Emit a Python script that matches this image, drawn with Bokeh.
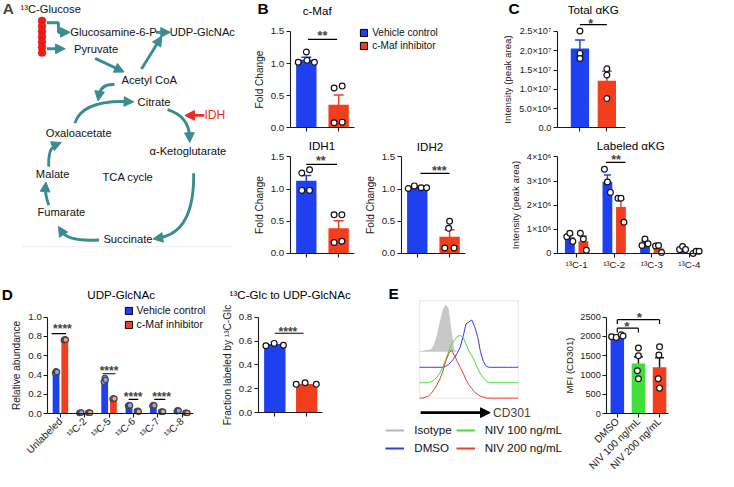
import math
from bokeh.plotting import figure
from bokeh.models import (Range1d, FixedTicker, Label, Legend, LegendItem, Whisker,
                          ColumnDataSource, Arrow, NormalHead, TeeHead, BoxAnnotation,
                          PrintfTickFormatter, CustomJSTickFormatter)
from bokeh.layouts import row, column
from bokeh.core.properties import value
from bokeh.embed import file_html
from bokeh.resources import INLINE

# ---------------- data ----------------
conditions = ["Vehicle control", "c-Maf inhibitor"]

cmaf_mean = [1.06, 0.36]
cmaf_sem = [0.04, 0.15]
cmaf_vehicle = [1.02, 1.18, 1.05, 1.02]
cmaf_inhib = [0.62, 0.65, 0.08, 0.09]

idh1_mean = [1.13, 0.39]
idh1_sem = [0.08, 0.12]
idh1_vehicle = [1.25, 1.30, 0.98, 0.98]
idh1_inhib = [0.60, 0.60, 0.17, 0.19]

idh2_mean = [1.03, 0.26]
idh2_sem = [0.01, 0.11]
idh2_vehicle = [1.01, 1.05, 1.02, 1.02]
idh2_inhib = [0.50, 0.39, 0.085, 0.085]

akg_total_mean = [2.06e7, 1.22e7]
akg_total_sem = [0.22e7, 0.25e7]
akg_total_vehicle = [2.51e7, 1.93e7, 1.80e7]
akg_total_inhib = [1.53e7, 1.37e7, 0.76e7]
akg_total_ticklabels = ["0.0", "5.0×10⁶", "1.0×10⁷", "1.5×10⁷", "2.0×10⁷", "2.5×10⁷"]

iso_labels = ["¹³C-1", "¹³C-2", "¹³C-3", "¹³C-4"]
akg_lab_vehicle_mean = [0.67e6, 2.97e6, 0.43e6, 0.20e6]
akg_lab_vehicle_sem = [0.10e6, 0.28e6, 0.08e6, 0.04e6]
akg_lab_inhib_mean = [0.51e6, 1.93e6, 0.22e6, 0.06e6]
akg_lab_inhib_sem = [0.21e6, 0.32e6, 0.09e6, 0.03e6]
akg_lab_vehicle_pts = [[0.69e6, 0.84e6, 0.50e6], [3.49e6, 2.96e6, 2.53e6],
                       [0.33e6, 0.60e6, 0.40e6], [0.16e6, 0.29e6, 0.16e6]]
akg_lab_inhib_pts = [[0.84e6, 0.60e6, 0.13e6], [2.29e6, 2.29e6, 1.29e6],
                     [0.31e6, 0.33e6, 0.04e6], [0.00e6, 0.09e6, 0.09e6]]
akg_lab_ticklabels = ["0", "1×10⁶", "2×10⁶", "3×10⁶", "4×10⁶"]

udp_labels = ["Unlabeled", "¹³C-2", "¹³C-5", "¹³C-6", "¹³C-7", "¹³C-8"]
udp_vehicle = [0.43, 0.01, 0.35, 0.085, 0.085, 0.03]
udp_inhib = [0.765, 0.01, 0.155, 0.025, 0.02, 0.008]
udp_vehicle_pts = [[0.42, 0.44, 0.43], [0.005, 0.01, 0.012], [0.33, 0.37, 0.35],
                   [0.08, 0.09, 0.085], [0.08, 0.09, 0.085], [0.025, 0.035, 0.03]]
udp_inhib_pts = [[0.76, 0.77, 0.765], [0.01, 0.012, 0.008], [0.15, 0.16, 0.155],
                 [0.025, 0.03, 0.02], [0.02, 0.022, 0.018], [0.008, 0.01, 0.006]]

frac_mean = [0.575, 0.24]
frac_vehicle = [0.56, 0.58, 0.565]
frac_inhib = [0.237, 0.25, 0.237]

hist_channel = [0, 3, 6, 9, 12, 15, 18, 21, 24, 27, 30, 33, 36, 39, 42, 45, 48, 51,
                54, 57, 60, 63, 66, 69, 72, 75, 78, 81, 84, 87, 90, 93, 96, 99, 102]
hist_isotype = [1, 1, 2, 2, 3, 8, 18, 32, 44, 49, 45, 22, 2, 0, 0, 0, 0, 0,
                0, 0, 0, 0, 0, 0, 0, 0, 0, 0, 0, 0, 0, 0, 0, 0, 0]
hist_dmso = [0, 0, 0, 0, 0, 0, 0, 0, 0, 1, 3, 6, 10, 15, 21, 32, 45, 47,
             49, 42, 32, 16, 6, 1, 0, 0, 0, 0, 0, 0, 0, 0, 0, 0, 0]
hist_niv100 = [0, 0, 0, 0, 1, 3, 6, 10, 16, 24, 32, 40, 44, 48, 49, 47, 40, 33,
               28, 22, 15, 9, 5, 2, 0, 0, 0, 0, 0, 0, 0, 0, 0, 0, 0]
hist_niv200 = [0, 0, 1, 2, 5, 9, 14, 20, 28, 38, 46, 50, 44, 38, 32, 26, 19, 14,
               10, 6, 4, 2, 1, 0, 0, 0, 0, 0, 0, 0, 0, 0, 0, 0, 0]

mfi_labels = ["DMSO", "NIV 100 ng/mL", "NIV 200 ng/mL"]
mfi_mean = [2005, 1300, 1200]
mfi_sem = [20, 175, 250]
mfi_pts = [[1990, 1975, 2045, 2010], [1700, 1500, 1110, 905], [1730, 1520, 905, 660]]

pathway_labels = ["¹³C-Glucose", "Glucosamine-6-P", "UDP-GlcNAc", "Pyruvate", "Acetyl CoA",
                  "Citrate", "Oxaloacetate", "α-Ketoglutarate", "Malate", "TCA cycle",
                  "Fumarate", "Succinate"]

# ---------------- style ----------------
FONT = "Liberation Sans"
BLUE = "#1f40f0"
RED = "#f23e1d"
GREEN = "#3fe03c"
TEAL = "#3b8c90"
S = 0.965


def P(v):
    return int(round(v * S))


def fs(px):
    return f"{px * S:.1f}px"


class Panel:
    """A figure whose frame fills its whole cell; axes are pinned with fixed_location."""

    def __init__(self, bounds, axbox, xdata, ydata, axes=True):
        self.bounds = bounds
        bx0, by0, bx1, by1 = bounds
        ax0, ay0, ax1, ay1 = axbox
        self.kx = (xdata[1] - xdata[0]) / (ax1 - ax0)
        self.ky = (ydata[1] - ydata[0]) / (ay1 - ay0)
        self.ax0, self.ay1, self.xd0, self.yd0 = ax0, ay1, xdata[0], ydata[0]
        kw = {} if axes else dict(x_axis_type=None, y_axis_type=None)
        p = figure(width=P(bx1) - P(bx0), height=P(by1) - P(by0),
                   x_range=Range1d(self.X(bx0), self.X(bx1)),
                   y_range=Range1d(self.Y(by1), self.Y(by0)),
                   output_backend="svg", toolbar_location=None,
                   min_border=0, min_border_left=0, min_border_right=0,
                   min_border_top=0, min_border_bottom=0, **kw)
        p.outline_line_color = None
        p.grid.visible = False
        if axes:
            p.yaxis.fixed_location = xdata[0]
            p.yaxis.bounds = (ydata[0], ydata[1])
            p.xaxis.fixed_location = ydata[0]
            p.xaxis.bounds = (xdata[0], xdata[1])
        self.p = p

    def X(self, X):
        return self.xd0 + (X - self.ax0) * self.kx

    def Y(self, Y):
        return self.yd0 + (self.ay1 - Y) * self.ky

    def text(self, X, Y, text, size=12.0, bold=False, color="black", align="center"):
        self.p.add_layout(Label(x=self.X(X), y=self.Y(Y), text=text, text_font=FONT,
                                text_font_size=fs(size),
                                text_font_style="bold" if bold else "normal",
                                text_color=color, text_align=align, text_baseline="middle"))

    def loc(self, X, Ybottom):
        bx0, by0, bx1, by1 = self.bounds
        return ((X - bx0) * S, (by1 - Ybottom) * S)


def style_axes(p, yticks, yfmt, ylabel, xticks, xlabels=None, tick_size=10.0,
               xtick_size=10.5, xrot=False, label_size=10.5):
    xa, ya = p.xaxis[0], p.yaxis[0]
    for ax in (xa, ya):
        ax.axis_line_color = "#1a1a1a"
        ax.axis_line_width = 1.1
        ax.major_tick_line_color = "#1a1a1a"
        ax.major_tick_line_width = 1.1
        ax.major_tick_in = 0
        ax.major_tick_out = P(4)
        ax.minor_tick_line_color = None
        ax.major_label_text_font = FONT
        ax.major_label_text_color = "#1a1a1a"
        ax.major_label_standoff = 2
        ax.axis_label_text_font = FONT
        ax.axis_label_text_font_style = "normal"
        ax.axis_label_text_font_size = fs(label_size)
        ax.axis_label_text_color = "#1a1a1a"
        ax.axis_label_standoff = 3
    ya.ticker = FixedTicker(ticks=yticks)
    ya.formatter = yfmt
    ya.major_label_text_font_size = fs(tick_size)
    ya.axis_label = ylabel
    xa.ticker = FixedTicker(ticks=xticks)
    if xlabels is None:
        xa.major_label_text_font_size = "0px"
        xa.major_label_standoff = 0
        xa.formatter = CustomJSTickFormatter(code="return '';")
    else:
        xa.formatter = CustomJSTickFormatter(args=dict(labels=xlabels), code="return labels[index];")
        xa.major_label_text_font_size = fs(xtick_size)
    if xrot:
        xa.major_label_orientation = math.pi / 4


def labels_fmt(lbls):
    return CustomJSTickFormatter(args=dict(labels=lbls), code="return labels[index];")


def errs(p, xs, means, sems, color, head=8):
    src = ColumnDataSource(dict(x=xs, lo=[m - s for m, s in zip(means, sems)],
                                hi=[m + s for m, s in zip(means, sems)]))
    p.add_layout(Whisker(source=src, base="x", lower="lo", upper="hi",
                         line_color=color, line_width=1.5,
                         upper_head=TeeHead(size=P(head), line_color=color, line_width=1.5),
                         lower_head=TeeHead(size=P(head), line_color=color, line_width=1.5)))


def dots(p, xs, ys, fill="white", size=6.0, line="#111111"):
    p.scatter(x=xs, y=ys, size=size * S, fill_color=fill, line_color=line, line_width=1.2)


def seg(p, x0, y0, x1, y1, width=1.2, color="black"):
    p.add_layout(Arrow(x_start=x0, y_start=y0, x_end=x1, y_end=y1, start=None, end=None,
                       line_width=width, line_color=color))


def sig(p, x0, x1, yline, ystar, xstar, text, size=13.0):
    seg(p, x0, yline, x1, yline)
    p.add_layout(Label(x=xstar, y=ystar, text=text, text_font=FONT, text_font_size=fs(size),
                       text_font_style="bold", text_align="center", text_baseline="middle",
                       y_offset=-0.25 * size * S))


def swatch_legend(pn, X, Ybottom, labels, colors, xs, tops, width, size=10.5, box=9):
    """Legend whose swatches come from hidden copies of the real bars (black outline)."""
    p = pn.p
    rs = [p.vbar(x=[x], top=[t], width=width, fill_color=c, line_color="black",
                 line_width=1, visible=False) for c, x, t in zip(colors, xs, tops)]
    leg = Legend(items=[LegendItem(label=l, renderers=[r]) for l, r in zip(labels, rs)],
                 location=pn.loc(X, Ybottom),
                 glyph_width=P(box), glyph_height=P(box), label_standoff=P(4),
                 label_text_font=FONT, label_text_font_size=fs(size), label_height=P(box),
                 label_text_color="#111111",
                 spacing=P(2), padding=0, margin=0, background_fill_alpha=0,
                 border_line_color=None)
    p.add_layout(leg)


def jit(center, offsets):
    return [center + o for o in offsets]


# ---------------- Panel A : pathway ----------------
pA = figure(width=P(262), height=P(290), x_range=Range1d(0, 262), y_range=Range1d(290, 0),
            x_axis_type=None, y_axis_type=None, output_backend="svg", toolbar_location=None,
            min_border=0, min_border_left=0, min_border_right=0, min_border_top=0,
            min_border_bottom=0)
pA.outline_line_color = None
pA.line([22, 240], [255, 255], line_color="#ececec", line_width=1)
pA.scatter(x=[43] * 7, y=[21 + 5.5 * i for i in range(7)], size=8 * S,
           fill_color="#f21a12", line_color="#d01010", line_width=0.5)
node_x = [52, 117, 209, 99, 154, 159, 81, 194, 54, 132, 63, 132]
node_y = [9, 33, 33, 50, 82, 105, 137, 156, 180, 183, 219, 247]
pA.text(x=node_x, y=node_y, text=pathway_labels, text_font=value(FONT),
        text_font_size=value(fs(11.6)), text_align="center", text_baseline="middle",
        text_color="#111111")
pA.text(x=[222], y=[119], text=["IDH"], text_font=value(FONT), text_font_size=value(fs(12.5)),
        text_align="center", text_baseline="middle", text_color="#ee2a1e")
pA.add_layout(Label(x=8, y=8, text="A", text_font=FONT, text_font_size=fs(16),
                    text_font_style="bold", text_align="center", text_baseline="middle"))

LW = 3 * S


def head(p, tip, frm, color=TEAL, size=10):
    dx, dy = tip[0] - frm[0], tip[1] - frm[1]
    L = math.hypot(dx, dy)
    ux, uy = dx / L, dy / L
    p.add_layout(Arrow(x_start=tip[0] - ux * 4, y_start=tip[1] - uy * 4, x_end=tip[0], y_end=tip[1],
                       line_color=color, line_width=LW,
                       end=NormalHead(size=size * S, fill_color=color, line_color=color, line_width=1)))


def straight(p, a, b, color=TEAL):
    p.add_layout(Arrow(x_start=a[0], y_start=a[1], x_end=b[0], y_end=b[1], line_color=color,
                       line_width=LW,
                       end=NormalHead(size=10 * S, fill_color=color, line_color=color, line_width=1)))


def curved(p, a, c, tip):
    dx, dy = tip[0] - c[0], tip[1] - c[1]
    L = math.hypot(dx, dy)
    ux, uy = dx / L, dy / L
    e = (tip[0] - ux * 6, tip[1] - uy * 6)
    p.quadratic(x0=[a[0]], y0=[a[1]], x1=[e[0]], y1=[e[1]], cx=[c[0]], cy=[c[1]],
                line_color=TEAL, line_width=LW)
    head(p, tip, c)


pA.line([48, 60, 60, 64], [23, 23, 33, 33], line_color=TEAL, line_width=LW)
straight(pA, (60, 33), (72, 33))
straight(pA, (48, 50), (67, 50))
straight(pA, (161, 33), (176, 33))
straight(pA, (98, 60), (128, 74))
straight(pA, (146, 71), (167, 37))
straight(pA, (211, 119), (191, 119), color="#ee2a1e")
curved(pA, (118, 87), (104, 86), (101, 104))
curved(pA, (77, 127), (85, 103), (138, 105))
curved(pA, (173, 113), (195, 120), (196, 147))
curved(pA, (200, 179), (201, 240), (158, 247))
curved(pA, (102, 248), (70, 250), (60, 234))
curved(pA, (50, 212), (46, 200), (47, 188))
curved(pA, (50, 172), (49, 153), (63, 147))

# ---------------- Panel B ----------------
B1 = Panel((262, 0, 518, 145), (300, 32, 367, 132), (-0.5, 1.5), (0, 1.5))
p = B1.p
style_axes(p, [0, 0.5, 1.0, 1.5], PrintfTickFormatter(format="%.1f"), "Fold Change", [0, 1])
p.vbar(x=[0, 1], top=cmaf_mean, width=0.63, fill_color=[BLUE, RED], line_color=None)
errs(p, [0], cmaf_mean[:1], cmaf_sem[:1], BLUE, head=10)
errs(p, [1], cmaf_mean[1:], cmaf_sem[1:], RED, head=10)
dots(p, jit(0, [-0.25, 0.0, 0.02, 0.25]), cmaf_vehicle)
dots(p, jit(1, [-0.14, 0.11, -0.14, 0.11]), cmaf_inhib)
sig(p, 0.05, 0.95, 1.375, 1.47, 0.5, "**")
B1.text(328, 10, "c-Maf", 12)
B1.text(272, 8, "B", 16, bold=True)
swatch_legend(B1, 372, 53, conditions, [BLUE, RED], [0, 1], cmaf_mean, 0.63)

B2 = Panel((262, 145, 375, 290), (300, 162, 367, 262), (-0.5, 1.5), (0, 1.5))
p = B2.p
style_axes(p, [0, 0.5, 1.0, 1.5], PrintfTickFormatter(format="%.1f"), "Fold Change", [0, 1])
p.vbar(x=[0, 1], top=idh1_mean, width=0.63, fill_color=[BLUE, RED], line_color=None)
errs(p, [0], idh1_mean[:1], idh1_sem[:1], BLUE, head=10)
errs(p, [1], idh1_mean[1:], idh1_sem[1:], RED, head=10)
dots(p, jit(0, [-0.14, 0.10, -0.14, 0.10]), idh1_vehicle)
dots(p, jit(1, [-0.14, 0.10, -0.14, 0.10]), idh1_inhib)
sig(p, 0.0, 0.95, 1.385, 1.48, 0.45, "**")
B2.text(333, 150, "IDH1", 12)

B3 = Panel((375, 145, 518, 290), (415, 162, 482, 262), (-0.5, 1.5), (0, 1.5))
p = B3.p
style_axes(p, [0, 0.5, 1.0, 1.5], PrintfTickFormatter(format="%.1f"), "Fold Change", [0, 1])
p.vbar(x=[0, 1], top=idh2_mean, width=0.63, fill_color=[BLUE, RED], line_color=None)
errs(p, [0], idh2_mean[:1], idh2_sem[:1], BLUE, head=10)
errs(p, [1], idh2_mean[1:], idh2_sem[1:], RED, head=10)
dots(p, jit(0, [-0.28, -0.09, 0.12, 0.29]), idh2_vehicle)
dots(p, jit(1, [0.0, -0.03, -0.15, 0.14]), idh2_inhib)
sig(p, 0.1, 1.0, 1.245, 1.33, 0.68, "***")
B3.text(445, 151, "IDH2", 12)

# ---------------- Panel C ----------------
C1 = Panel((518, 0, 734, 145), (577, 32, 648, 132), (-0.84, 1.70), (0, 2.5e7))
p = C1.p
style_axes(p, [0, 5e6, 1e7, 1.5e7, 2e7, 2.5e7], labels_fmt(akg_total_ticklabels),
           "Intensity (peak area)", [0, 1], tick_size=9.5, label_size=10)
p.vbar(x=[0, 1], top=akg_total_mean, width=0.68, fill_color=[BLUE, RED], line_color=None)
errs(p, [0], akg_total_mean[:1], akg_total_sem[:1], BLUE, head=10)
errs(p, [1], akg_total_mean[1:], akg_total_sem[1:], RED, head=10)
dots(p, jit(0, [0, 0, 0]), akg_total_vehicle)
dots(p, jit(1, [0, 0, 0]), akg_total_inhib)
sig(p, 0.0, 1.0, 2.675e7, 2.78e7, 0.4, "*")
C1.text(616, 9, "Total  αKG", 12)
C1.text(532, 8, "C", 16, bold=True)

C2 = Panel((518, 145, 734, 290), (577, 162, 727, 262), (-0.513, 3.33), (0, 4e6))
p = C2.p
style_axes(p, [0, 1e6, 2e6, 3e6, 4e6], labels_fmt(akg_lab_ticklabels),
           "Intensity (peak area)", [0, 1, 2, 3], iso_labels, tick_size=9.5, xtick_size=10,
           label_size=10)
gidx = [0, 1, 2, 3]
p.vbar(x=[g - 0.18 for g in gidx], top=akg_lab_vehicle_mean, width=0.26, fill_color=BLUE,
       line_color=None)
p.vbar(x=[g + 0.18 for g in gidx], top=akg_lab_inhib_mean, width=0.26, fill_color=RED,
       line_color=None)
errs(p, [g - 0.18 for g in gidx], akg_lab_vehicle_mean, akg_lab_vehicle_sem, BLUE, head=7)
errs(p, [g + 0.18 for g in gidx], akg_lab_inhib_mean, akg_lab_inhib_sem, RED, head=7)
for g in gidx:
    dots(p, jit(g - 0.18, [-0.08, 0.0, 0.08]), akg_lab_vehicle_pts[g])
    dots(p, jit(g + 0.18, [-0.08, 0.0, 0.08]), akg_lab_inhib_pts[g])
sig(p, 0.78, 1.3, 3.77e6, 4.0e6, 1.05, "**")
C2.text(655, 150, "Labeled  αKG", 12)

# ---------------- Panel D ----------------
D1 = Panel((0, 290, 228, 487), (49, 328, 200, 428), (-0.52, 5.47), (0, 1.0))
p = D1.p
style_axes(p, [0, 0.2, 0.4, 0.6, 0.8, 1.0], PrintfTickFormatter(format="%.1f"),
           "Relative abundance", [0, 1, 2, 3, 4, 5], udp_labels, xrot=True, xtick_size=10.5)
uidx = [0, 1, 2, 3, 4, 5]
p.vbar(x=[g - 0.18 for g in uidx], top=udp_vehicle, width=0.28, fill_color=BLUE, line_color=None)
p.vbar(x=[g + 0.18 for g in uidx], top=udp_inhib, width=0.28, fill_color=RED, line_color=None)
for g in uidx:
    dots(p, jit(g - 0.18, [-0.04, 0.0, 0.04]), udp_vehicle_pts[g], fill="#8fa3f2", size=5.5,
         line="#444444")
    dots(p, jit(g + 0.18, [-0.04, 0.0, 0.04]), udp_inhib_pts[g], fill="#f2a090", size=5.5,
         line="#444444")
sig(p, -0.36, 0.23, 0.83, 0.905, 0.08, "****", size=12.5)
sig(p, 1.74, 2.26, 0.413, 0.475, 2.0, "****", size=12.5)
sig(p, 2.80, 3.20, 0.147, 0.205, 2.99, "****", size=12.5)
sig(p, 3.86, 4.31, 0.147, 0.205, 4.16, "****", size=12.5)
D1.text(125, 305, "UDP-GlcNAc", 12)
D1.text(7, 304, "D", 16, bold=True)
swatch_legend(D1, 128, 342, conditions, [BLUE, RED], [-0.18, 0.18], udp_vehicle[:1] + udp_inhib[:1],
              0.28, size=11, box=9)

D2 = Panel((228, 290, 380, 487), (267, 328, 333, 427), (-0.52, 1.48), (0, 0.8))
p = D2.p
style_axes(p, [0, 0.2, 0.4, 0.6, 0.8], PrintfTickFormatter(format="%.1f"),
           "Fraction labeled by ¹³C-Glc", [0, 1], label_size=10.5)
p.vbar(x=[0, 1], top=frac_mean, width=0.67, fill_color=[BLUE, RED], line_color=None)
dots(p, jit(0, [-0.28, -0.02, 0.27]), frac_vehicle)
dots(p, jit(1, [-0.33, -0.05, 0.3]), frac_inhib)
sig(p, 0.0, 0.9, 0.665, 0.70, 0.41, "****", size=12.5)
D2.text(300, 305, "¹³C-Glc to UDP-GlcNAc", 12)

# ---------------- Panel E ----------------
E1 = Panel((380, 290, 585, 487), (434, 311, 536, 412), (0, 102), (0, 101), axes=False)
p = E1.p
p.add_layout(BoxAnnotation(left=0, right=102, bottom=0, top=101, fill_color=None,
                           line_color="#b0b0b0", line_width=1, level="underlay"))
iso_base, dmso_base, n100_base, n200_base = 48, 32, 16, 0
iso_y = [iso_base + h for h in hist_isotype]
dmso_y = [dmso_base + h for h in hist_dmso]
n100_y = [n100_base + h for h in hist_niv100]
n200_y = [n200_base + h for h in hist_niv200]
p.varea(x=hist_channel, y1=[iso_base] * len(hist_channel), y2=iso_y, fill_color="#c8c8c8")
p.line(hist_channel, dmso_y, line_color="#3a3ae8", line_width=1)
p.line(hist_channel, n100_y, line_color="#45d845", line_width=1)
p.line(hist_channel, n200_y, line_color="#f03a30", line_width=1)
# hidden thicker copies used only for the legend swatches
leg_iso = p.line(hist_channel, iso_y, line_color="#b4b4b4", line_width=2, visible=False)
leg_dmso = p.line(hist_channel, dmso_y, line_color="#2f3fe0", line_width=2, visible=False)
leg_n100 = p.line(hist_channel, n100_y, line_color="#45d845", line_width=2, visible=False)
leg_n200 = p.line(hist_channel, n200_y, line_color="#f03a30", line_width=2, visible=False)
legE = Legend(items=[LegendItem(label="Isotype", renderers=[leg_iso]),
                     LegendItem(label="DMSO", renderers=[leg_dmso]),
                     LegendItem(label="NIV 100 ng/mL", renderers=[leg_n100]),
                     LegendItem(label="NIV 200 ng/mL", renderers=[leg_n200])],
              orientation="vertical", nrows=2,
              location=E1.loc(399, 471),
              glyph_width=P(20), glyph_height=P(14), label_standoff=P(10),
              label_text_font=FONT, label_text_font_size=fs(12), label_height=P(14),
              label_text_color="#111111",
              spacing=P(4), padding=0, margin=0, background_fill_alpha=0,
              border_line_color=None)
p.add_layout(legE)
p.add_layout(Arrow(x_start=1, y_start=-15, x_end=73, y_end=-15, line_color="black",
                   line_width=3 * S,
                   end=NormalHead(size=10 * S, fill_color="black", line_color="black", line_width=1)))
p.add_layout(Label(x=76, y=-15, text="CD301", text_font=FONT, text_font_size=fs(12.5),
                   text_align="left", text_baseline="middle"))
E1.text(407, 303, "E", 16, bold=True)

E2 = Panel((585, 290, 734, 487), (628, 328, 692, 428), (-0.5, 2.41), (0, 2500))
p = E2.p
style_axes(p, [0, 500, 1000, 1500, 2000, 2500], PrintfTickFormatter(format="%d"),
           "MFI (CD301)", [0, 1, 2], mfi_labels, xrot=True, xtick_size=10.5, tick_size=9.5,
           label_size=10)
p.yaxis[0].axis_label_standoff = 2
p.vbar(x=[0, 1, 2], top=mfi_mean, width=0.64, fill_color=[BLUE, GREEN, RED], line_color=None)
errs(p, [0], mfi_mean[:1], mfi_sem[:1], "#1a1a1a", head=9)
errs(p, [1], mfi_mean[1:2], mfi_sem[1:2], "#1a1a1a", head=9)
errs(p, [2], mfi_mean[2:], mfi_sem[2:], "#1a1a1a", head=9)
dots(p, jit(0, [-0.27, -0.05, 0.18, 0.27]), mfi_pts[0])
dots(p, jit(1, [0.0, 0.0, -0.05, 0.0]), mfi_pts[1])
dots(p, jit(2, [0.0, -0.03, -0.06, 0.0]), mfi_pts[2])
for (a, b, yb, xs) in [(0, 1, 2215, 0.45), (0, 2, 2435, 1.05)]:
    seg(p, a, yb, b, yb)
    seg(p, a, yb, a, yb - 115)
    seg(p, b, yb, b, yb - 115)
    p.add_layout(Label(x=xs, y=yb + 140, text="*", text_font=FONT, text_font_size=fs(14),
                       text_font_style="bold", text_align="center", text_baseline="middle",
                       y_offset=-0.25 * 14 * S))

# ---------------- layout ----------------
top = row(pA, column(B1.p, row(B2.p, B3.p)), column(C1.p, C2.p))
bottom = row(D1.p, D2.p, E1.p, E2.p)
layout = column(top, bottom)

open("out.html", "w").write(file_html(layout, INLINE))
